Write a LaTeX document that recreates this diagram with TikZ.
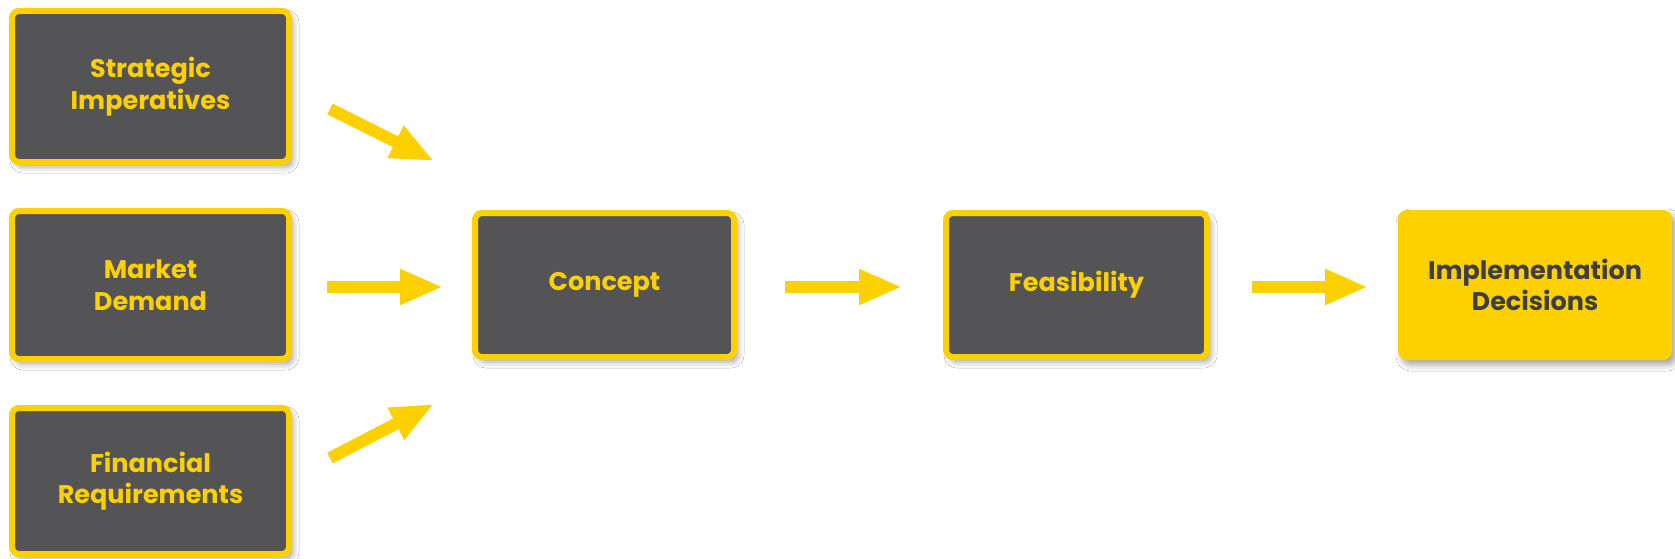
\documentclass[tikz,border=0pt]{standalone}
\usepackage{fontspec}
\setmainfont{Poppins}
\usetikzlibrary{arrows.meta,shadows.blur}
\definecolor{ey}{HTML}{FDD000}
\definecolor{eg}{HTML}{545457}
\definecolor{et}{HTML}{3E3E40}
\tikzset{
  box/.style={draw=ey, line width=6pt, fill=eg, rounded corners=7pt, outer sep=0pt,
    align=center, text=ey, font=\fontsize{25.5}{31.5}\selectfont\bfseries,
    blur shadow={shadow xshift=4pt, shadow yshift=-5pt, shadow blur radius=6pt, shadow opacity=35}},
  endbox/.style={draw=none, fill=ey, rounded corners=9pt, outer sep=0pt,
    align=center, text=et, font=\fontsize{25.5}{31.5}\selectfont\bfseries,
    blur shadow={shadow xshift=4pt, shadow yshift=-5pt, shadow blur radius=6pt, shadow opacity=35}},
  arr/.style={draw=ey, line width=12pt, -{Triangle[length=43pt,width=33pt]}}
}
\begin{document}
\begin{tikzpicture}[x=1pt,y=-1pt]
\useasboundingbox[fill=white] (0,0) rectangle (1675,559);
\node[box, minimum width=277pt, minimum height=151pt] (s) at (150.5,86.5) {Strategic\\Imperatives};
\node[box, minimum width=277pt, minimum height=148pt] (m) at (150.5,285) {Market\\Demand};
\node[box, minimum width=277pt, minimum height=146pt] (fr) at (150.5,481) {Financial\\Requirements};
\node[box, minimum width=259pt, minimum height=144pt] (c) at (604.5,285) {Concept};
\node[box, minimum width=261pt, minimum height=144pt] (f) at (1076.5,285) {Feasibility};
\node[endbox, minimum width=274pt, minimum height=150pt] (i) at (1535,285) {Implementation\\Decisions};
\coordinate (a1s) at (330,109);
\coordinate (a1e) at (434,161);
\coordinate (a2s) at (327,287);
\coordinate (a2e) at (443,287);
\coordinate (a3s) at (330,458);
\coordinate (a3e) at (434,404);
\coordinate (a4s) at (785,287);
\coordinate (a4e) at (902,287);
\coordinate (a5s) at (1252,287);
\coordinate (a5e) at (1368,287);
\draw[arr] (a1s) -- (a1e);
\draw[arr] (a2s) -- (a2e);
\draw[arr] (a3s) -- (a3e);
\draw[arr] (a4s) -- (a4e);
\draw[arr] (a5s) -- (a5e);
\end{tikzpicture}
\end{document}
